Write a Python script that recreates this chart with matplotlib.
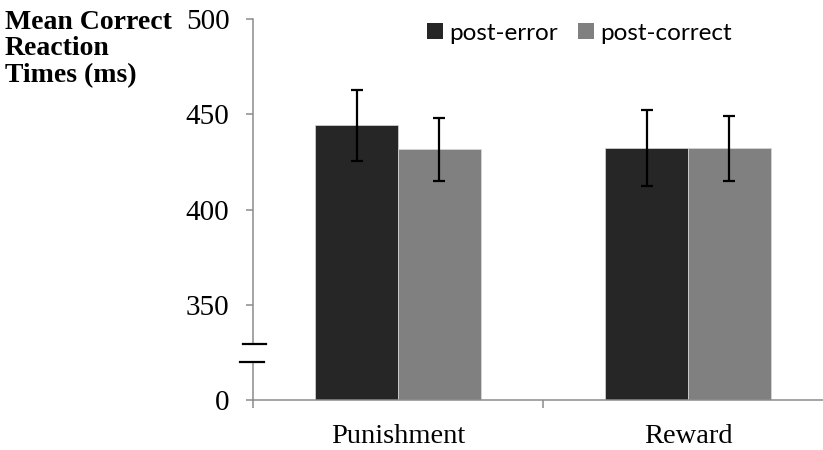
import matplotlib
matplotlib.use("Agg")
import matplotlib.pyplot as plt
from matplotlib.patches import Patch
import numpy as np

# Data
categories = ["Punishment", "Reward"]
series_names = ["post-error", "post-correct"]
post_error = [444.2, 432.2]
post_correct = [431.6, 432.2]
post_error_sem = [18.5, 20.0]
post_correct_sem = [16.5, 17.0]
tick_values = [300, 350, 400, 450, 500]
tick_labels = ["0", "350", "400", "450", "500"]

serif = "Liberation Serif"
axis_grey = "#8c8c8c"
colors = ["#262626", "#808080"]

fig = plt.figure(figsize=(8.23, 4.5), dpi=100)
ax = fig.add_axes([253 / 823, 1 - 400 / 450, 580 / 823, (400 - 19) / 450])

x = np.arange(len(categories))
w = 0.2845
for i, (vals, err) in enumerate([(post_error, post_error_sem), (post_correct, post_correct_sem)]):
    pos = x + (i - 0.5) * w
    ax.bar(pos, np.array(vals) - 300, bottom=300, width=w, color=colors[i],
           edgecolor="#d9d9d9", linewidth=0.5, label=series_names[i], zorder=2)
    ax.errorbar(pos, vals, yerr=err, fmt="none", ecolor="black", elinewidth=1.6,
                capsize=4.5, capthick=1.6, zorder=3)

ax.set_xlim(-0.5, 1.5)
ax.set_ylim(300, 500)
ax.set_yticks(tick_values)
ax.set_yticklabels(tick_labels, fontfamily=serif, fontsize=21)
ax.set_xticks([-0.5, 0.5, 1.5])
ax.set_xticklabels([])
ax.set_xticks(x, minor=True)
ax.set_xticklabels(categories, minor=True, fontfamily=serif, fontsize=20.5)
ax.tick_params(axis="x", which="minor", length=0, pad=17)
ax.tick_params(axis="x", which="major", length=6, width=1.1, color=axis_grey, direction="out")
ax.tick_params(axis="y", length=5, width=1.1, color=axis_grey, direction="out", pad=12)

for s in ["top", "right", "left"]:
    ax.spines[s].set_visible(False)
ax.spines["bottom"].set_color(axis_grey)
ax.spines["bottom"].set_linewidth(1.1)

# Broken y axis: spine drawn in two pieces with break marks
lo_break, hi_break = 319.9, 329.4
tr = ax.get_yaxis_transform()
ax.plot([0, 0], [300, lo_break], transform=tr, color=axis_grey, lw=1.1, clip_on=False, zorder=1)
ax.plot([0, 0], [hi_break, 500], transform=tr, color=axis_grey, lw=1.1, clip_on=False, zorder=1)
ax.plot([-0.0172, 0.0224], [hi_break, hi_break], transform=tr, color="black", lw=1.6, clip_on=False)
ax.plot([-0.0224, 0.019], [lo_break, lo_break], transform=tr, color="black", lw=1.6, clip_on=False)

handles = [Patch(facecolor=c, edgecolor="none") for c in colors]
leg = ax.legend(handles, series_names, loc="center left", bbox_to_anchor=(174 / 580, 1 - 14 / 381),
                ncol=2, frameon=False, handlelength=0.66, handleheight=0.66,
                handletextpad=0.25, columnspacing=0.85, borderaxespad=0, borderpad=0,
                prop={"family": "Lato", "size": 17.5})

fig.text(5 / 823, 1 - 10 / 450, "Mean Correct\nReaction\nTimes (ms)", ha="left", va="top",
         fontfamily=serif, fontweight="bold", fontsize=20, linespacing=1.07)

fig.savefig("out.png", dpi=100)
